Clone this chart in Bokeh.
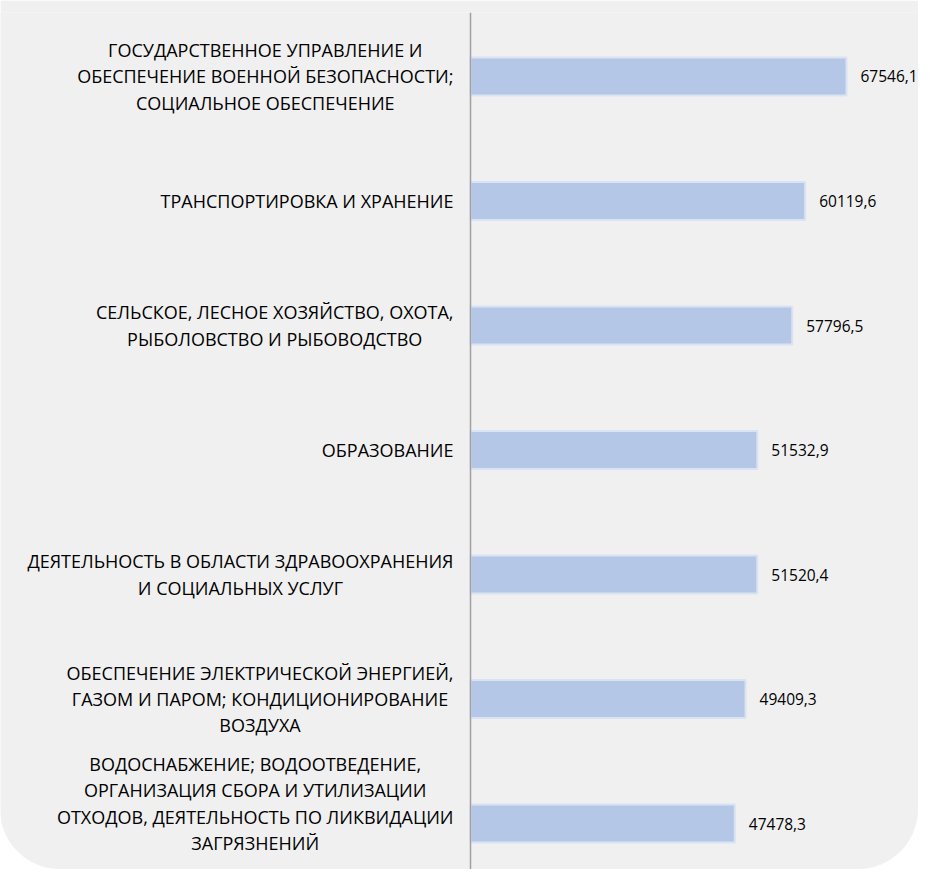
from bokeh.plotting import figure
from bokeh.models import Range1d, Span, ColumnDataSource
from bokeh.core.properties import value
from bokeh.embed import file_html
from bokeh.resources import INLINE

categories = [
    "ГОСУДАРСТВЕННОЕ УПРАВЛЕНИЕ И\nОБЕСПЕЧЕНИЕ ВОЕННОЙ БЕЗОПАСНОСТИ;\nСОЦИАЛЬНОЕ ОБЕСПЕЧЕНИЕ",
    "ТРАНСПОРТИРОВКА И ХРАНЕНИЕ",
    "СЕЛЬСКОЕ, ЛЕСНОЕ ХОЗЯЙСТВО, ОХОТА,\nРЫБОЛОВСТВО И РЫБОВОДСТВО",
    "ОБРАЗОВАНИЕ",
    "ДЕЯТЕЛЬНОСТЬ В ОБЛАСТИ ЗДРАВООХРАНЕНИЯ\nИ СОЦИАЛЬНЫХ УСЛУГ",
    "ОБЕСПЕЧЕНИЕ ЭЛЕКТРИЧЕСКОЙ ЭНЕРГИЕЙ,\nГАЗОМ И ПАРОМ; КОНДИЦИОНИРОВАНИЕ\nВОЗДУХА",
    "ВОДОСНАБЖЕНИЕ; ВОДООТВЕДЕНИЕ,\nОРГАНИЗАЦИЯ СБОРА И УТИЛИЗАЦИИ\nОТХОДОВ, ДЕЯТЕЛЬНОСТЬ ПО ЛИКВИДАЦИИ\nЗАГРЯЗНЕНИЙ",
]
values = [67546.1, 60119.6, 57796.5, 51532.9, 51520.4, 49409.3, 47478.3]
value_labels = ["67546,1", "60119,6", "57796,5", "51532,9", "51520,4", "49409,3", "47478,3"]

BG = "#f0f0f0"
FONT = "Open Sans"

# long (4-line) label blocks are lifted a little so they stay inside the chart
line_counts = [c.count("\n") + 1 for c in categories]
label_shift = [-20 if n >= 4 else 0 for n in line_counts]

src = ColumnDataSource(dict(
    y=list(range(len(categories))),
    v=values,
    cat=categories,
    vl=value_labels,
    zero=[0] * len(values),
    shift=label_shift,
))

p = figure(width=918, height=869, output_backend="svg", toolbar_location=None,
           x_range=Range1d(-84431, 80479), y_range=Range1d(6.369, -0.514),
           min_border_left=0, min_border_right=0, min_border_top=12, min_border_bottom=0)
p.background_fill_color = BG
p.border_fill_color = BG
p.outline_line_color = None
p.xaxis.visible = False
p.yaxis.visible = False
p.xgrid.visible = False
p.ygrid.visible = False
p.styles = {"border-bottom-left-radius": "60px", "border-bottom-right-radius": "60px",
            "overflow": "hidden"}

p.hbar(y="y", left="zero", right="v", height=0.305, source=src,
       fill_color="#b4c7e7", line_color="#dae3f3", line_width=2)

p.add_layout(Span(location=0, dimension="height", line_color="#a0a0a0", line_width=1.5))

p.text(x="zero", y="y", text="cat", source=src, x_offset=-17, y_offset="shift",
       anchor="center_right", text_align="center", text_baseline="middle",
       text_font=value(FONT), text_font_size="18px", text_line_height=1.10,
       text_color="#000000")

p.text(x="v", y="y", text="vl", source=src, x_offset=14,
       text_align="left", text_baseline="middle",
       text_font=value(FONT), text_font_size="15.5px", text_color="#000000")

open("out.html", "w").write(file_html(p, INLINE))
